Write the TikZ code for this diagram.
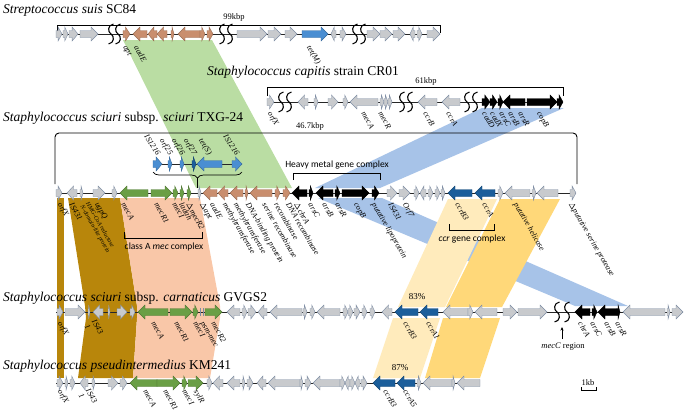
\documentclass[tikz,border=0pt]{standalone}
\usepackage{fontspec}
\setmainfont{Liberation Serif}
\newfontfamily\calfont{Carlito}
\usetikzlibrary{decorations.pathreplacing,arrows.meta}
\definecolor{gfill}{HTML}{C8CACD}
\definecolor{gline}{HTML}{7D8CA3}
\definecolor{ofill}{HTML}{C98E6E}
\definecolor{grn}{HTML}{6A9F45}
\definecolor{tblue}{HTML}{4A8ED2}
\definecolor{cblue}{HTML}{1B5E9B}
\definecolor{bgreen}{HTML}{BADDA3}
\definecolor{bblue}{HTML}{A7C3E8}
\definecolor{bly}{HTML}{FFEBBC}
\definecolor{bdy}{HTML}{FFD879}
\definecolor{bbrown}{HTML}{B8860B}
\definecolor{bpeach}{HTML}{F9C7A8}
\newcounter{nc}
\newcommand\gR[4]{%
\pgfmathsetmacro\ghl{min(7,0.65*(#2-#1))}%
\pgfmathsetmacro\ghx{#2-\ghl}%
\filldraw[#4] (#1,#3-3.5) -- (\ghx,#3-3.5) -- (\ghx,#3-7) -- (#2,#3) -- (\ghx,#3+7) -- (\ghx,#3+3.5) -- (#1,#3+3.5) -- cycle;}
\newcommand\gL[4]{%
\pgfmathsetmacro\ghl{min(7,0.65*(#2-#1))}%
\pgfmathsetmacro\ghx{#1+\ghl}%
\filldraw[#4] (#2,#3-3.5) -- (\ghx,#3-3.5) -- (\ghx,#3-7) -- (#1,#3) -- (\ghx,#3+7) -- (\ghx,#3+3.5) -- (#2,#3+3.5) -- cycle;}
\newcommand\gbrk[2]{%
\draw[brkl] (#1+2.5,#2-10) .. controls (#1-3.5,#2-9) and (#1-3.5,#2-2) .. (#1,#2) .. controls (#1+3.5,#2+2) and (#1+3.5,#2+9) .. (#1-2.5,#2+10);}
\newcommand\glb[3]{\stepcounter{nc}\node[glab,anchor=west,rotate=-60] (n\arabic{nc}) at (#1,#2+10) {#3};}
\newcommand\gla[3]{\stepcounter{nc}\node[glab,anchor=east,rotate=-57] (n\arabic{nc}) at (#1,#2-9) {#3};}
\tikzset{
 gg/.style={fill=gfill,draw=gline,line width=0.4pt},
 go/.style={fill=ofill,draw=ofill!75!black,line width=0.4pt},
 ggr/.style={fill=grn,draw=grn!75!black,line width=0.4pt},
 gb/.style={fill=tblue,draw=tblue!75!black,line width=0.4pt},
 gcb/.style={fill=cblue,draw=cblue!75!black,line width=0.4pt},
 gk/.style={fill=black,draw=black,line width=0.4pt},
 brkl/.style={line width=1.1pt,black},
 bbone/.style={line width=0.9pt,black!85},
 brack/.style={line width=0.9pt,black},
 glab/.style={font=\fontsize{8}{8.5}\selectfont\itshape,inner sep=0.5pt},
 ttl/.style={font=\fontsize{13.5}{15}\selectfont,anchor=base west,inner sep=0pt},
 small/.style={font=\fontsize{8.5}{9}\selectfont,inner sep=0.5pt},
 sans/.style={font=\calfont\fontsize{9.5}{10}\selectfont,inner sep=0.5pt}
}
\begin{document}
\begin{tikzpicture}[x=1pt,y=-1pt]
\useasboundingbox (0,0) rectangle (685,415);
% ---------- bands ----------
\fill[bgreen] (123,40) -- (212,40) -- (292,188) -- (196,188) -- cycle;
\fill[bblue] (482,108) -- (564,108) -- (380,188) -- (315,188) -- cycle;
\fill[bblue] (318,198) -- (382,198) -- (628,306) -- (575,306) -- cycle;
\fill[bbrown] (57,198) -- (64,198) -- (64,378) -- (57,378) -- cycle;
\fill[bbrown] (68,198) -- (120,198) -- (137,306) -- (137,318) -- (133,378) -- (78,378) -- (86,318) -- (85,306) -- cycle;
\fill[bpeach] (120,198) -- (200,198) -- (220,306) -- (220,318) -- (210,378) -- (133,378) -- (137,318) -- (137,306) -- cycle;
\fill[bly] (448,199) -- (497,199) -- (445,307) -- (398,307) -- cycle;
\fill[bdy] (500,199) -- (560,199) -- (502,307) -- (446,307) -- cycle;
\fill[bly] (393,318) -- (440,318) -- (420,378) -- (373,378) -- cycle;
\fill[bdy] (443,318) -- (500,318) -- (480,378) -- (425,378) -- cycle;
% ---------- titles ----------
\node[ttl] (t1) at (3,13) {\textit{Streptococcus suis} SC84};
\node[ttl] (t2) at (207,75) {\textit{Staphylococcus capitis} strain CR01};
\node[small] (k2) at (426,81) {61kbp};
\node[ttl] (t3) at (3,121) {\textit{Staphylococcus sciuri} subsp. \textit{sciuri} TXG-24};
\node[ttl] (t4) at (3,301) {\textit{Staphylococcus sciuri} subsp. \textit{carnaticus} GVGS2};
\node[ttl] (t5) at (3,369) {\textit{Staphylococcus pseudintermedius} KM241};
% ---------- brackets ----------
\draw[brack] (57,33) -- (57,25) -- (440,25) -- (440,33);
\node[small] (k1) at (234,17) {99kbp};
\draw[brack] (267,96) -- (267,87) -- (563,87) -- (563,96);
\draw[brack,rounded corners=4pt] (55,184) -- (55,133) -- (577,133) -- (577,184);
\node[small] (k3) at (310,126) {46.7kbp};
\draw[brack] (293,180) -- (293,173) -- (380,173) -- (380,180);
\node[sans] (hm) at (337,165) {Heavy metal gene complex};
\draw[brack] (124,232) -- (124,238) -- (202,238) -- (202,232);
\node[sans] (ca) at (164,247) {class A \textit{mec} complex};
\draw[brack] (449,224) -- (449,230) -- (494,230) -- (494,224);
\node[sans] (cc) at (472,239) {\textit{ccr} gene complex};
% ---------- backbones ----------
\draw[bbone] (56,34) -- (440,34);
\draw[bbone] (267,102) -- (563,102);
\draw[bbone] (56,193) -- (576,193);
\draw[bbone] (153,164) -- (242,164);
\draw[bbone] (56,312) -- (683,312);
\draw[bbone] (56,383) -- (480,383);
% inset brace
\draw[brack,line width=0.7pt,decorate,decoration={brace,amplitude=6pt,mirror}] (153,172) -- (242,172);
\coordinate (bt) at (197.5,178);
\coordinate (bm) at (197.5,188);
\draw[line width=0.7pt] (bt) -- (bm);
% ---------- row 1 ----------
\gR{56}{62}{34}{gg}\gR{63}{68}{34}{gg}\gR{69}{78}{34}{gg}\gR{80}{98}{34}{gg}
\gbrk{111}{34}\gbrk{118}{34}
\gR{123}{130}{34}{go}\gL{133}{147}{34}{go}\gL{148}{157}{34}{go}\gL{157}{167}{34}{go}
\gR{171}{174}{34}{go}\gL{178}{200}{34}{go}\gR{200}{205}{34}{go}\gR{207}{213}{34}{go}
\gbrk{222}{34}\gbrk{230}{34}
\gR{237}{267}{34}{gg}\gR{268}{281}{34}{gg}\gR{285}{297}{34}{gg}\gR{302}{328}{34}{gb}
\gL{331}{336}{34}{gg}\gR{340}{346}{34}{gg}
\gbrk{355}{34}\gbrk{363}{34}
\gR{367}{380}{34}{gg}\gR{380}{392}{34}{gg}\gR{393}{405}{34}{gg}\gL{410}{415}{34}{gg}
\gR{417}{422}{34}{gg}\gR{427}{440}{34}{gg}
\glb{124}{36}{apt}\glb{136}{36}{aadE}\glb{308}{36}{tet(M)}
% ---------- row 2 ----------
\gR{267}{274}{102}{gg}
\gbrk{281}{102}\gbrk{289}{102}
\gL{298}{308}{102}{gg}\gR{314}{318}{102}{gg}\gR{328}{338}{102}{gg}\gR{343}{348}{102}{gg}
\gL{350}{378}{102}{gg}\gR{380}{384}{102}{gg}\gR{384}{388}{102}{gg}\gR{388}{392}{102}{gg}
\gbrk{402}{102}\gbrk{410}{102}
\gL{418}{437}{102}{gg}\gL{442}{460}{102}{gg}
\gbrk{467}{102}\gbrk{475}{102}
\gR{482}{490}{102}{gk}\gR{490}{497}{102}{gk}\gR{498}{503}{102}{gk}\gL{503}{525}{102}{gk}
\gR{527}{557}{102}{gk}\gR{557}{563}{102}{gk}
\glb{269}{102}{orfX}\glb{363}{102}{mecA}\glb{380}{102}{mecR}\glb{425}{102}{ccrB}
\glb{448}{102}{ccrA}\glb{484}{102}{cadD}\glb{492}{102}{cadX}\glb{501}{102}{arsC}
\glb{510}{102}{arsB}\glb{520}{102}{arsR}\glb{538}{102}{copB}
% ---------- inset ----------
\gR{153}{162}{164}{gb}\gR{168}{172}{164}{gb}\gR{180}{184}{164}{gb}\gR{192}{196}{164}{gcb}
\gL{197}{222}{164}{gb}\gR{232}{242}{164}{gb}
\gla{159}{164}{IS1216}\gla{171}{164}{orf25}\gla{183}{164}{orf26}\gla{195}{164}{orf27}
\gla{210}{164}{tet(S)}\gla{238}{164}{IS1216}
% ---------- row 3 ----------
\gR{56}{62}{193}{gg}\gL{67}{77}{193}{gg}\gR{80}{83}{193}{gg}\gR{93}{105}{193}{gg}\gR{112}{117}{193}{gg}
\gL{120}{148}{193}{ggr}\gR{151}{172}{193}{ggr}\gR{173}{178}{193}{ggr}\gR{180}{184}{193}{ggr}\gR{187}{191}{193}{ggr}
\gR{198}{201}{193}{gg}
\gL{203}{217}{193}{go}\gL{218}{228}{193}{go}\gL{230}{243}{193}{go}\gR{245}{248}{193}{go}
\gL{250}{272}{193}{go}\gR{275}{280}{193}{go}\gR{283}{290}{193}{go}
\gL{292}{307}{193}{gk}\gR{309}{313}{193}{gk}\gL{316}{333}{193}{gk}\gR{335}{340}{193}{gk}
\gR{342}{369}{193}{gk}\gR{372}{379}{193}{gk}
\gR{387}{397}{193}{gg}\gR{399}{410}{193}{gg}\gR{414}{419}{193}{gg}\gL{420}{426}{193}{gg}
\gR{428}{433}{193}{gg}\gR{435}{440}{193}{gg}\gR{441}{445}{193}{gg}
\gL{448}{472}{193}{gcb}\gL{475}{495}{193}{gcb}
\gR{498}{503}{193}{gg}\gL{505}{530}{193}{gg}\gR{532}{536}{193}{gg}\gL{537}{558}{193}{gg}
\gR{570}{576}{193}{gg}
\glb{59}{193}{orfX}\glb{71}{193}{IS431}
\stepcounter{nc}\node[glab,font=\fontsize{6}{6.5}\selectfont\itshape,align=left,anchor=west,rotate=-60] (n\arabic{nc}) at (84,204) {HMG-CoA reductase\\N-domain-like protein};
\glb{96}{193}{ugpQ}\glb{123}{193}{mecA}\glb{156}{193}{mecR1}\glb{174}{193}{mecI}
\glb{181}{193}{ladah}\glb{188}{193}{$\Delta$mecR2}\glb{201}{193}{$\Delta$apt}\glb{212}{193}{aadE}
\glb{224}{193}{methyltransferase}\glb{235}{193}{methyltransferase}\glb{247}{193}{DNA-binding protein}
\glb{264}{193}{serine recombinase}\glb{276}{193}{recombinase}\glb{288}{193}{DNA recombinase}
\glb{296}{193}{$\Delta$chrA}\glb{310}{193}{arsC}\glb{324}{193}{arsB}\glb{337}{193}{arsR}
\glb{355}{193}{copB}\glb{373}{193}{putative lipoprotein}\glb{390}{193}{IS431}\glb{404}{193}{Orf7}
\glb{457}{193}{ccrB3}\glb{484}{193}{ccrA}\glb{515}{193}{putative helicase}
\glb{570}{193}{$\Delta$putative serine protease}
% ---------- row 4 ----------
\gR{57}{63}{312}{gg}\gR{65}{85}{312}{gg}\gR{88}{90}{312}{gg}\gL{93}{103}{312}{gg}\gR{108}{110}{312}{gg}
\gR{117}{127}{312}{gg}\gR{130}{135}{312}{gg}
\gL{138}{168}{312}{ggr}\gR{170}{192}{312}{ggr}\gR{193}{198}{312}{ggr}
\draw[gline,line width=0.6pt] (200,308) -- (200,316) (203,308) -- (203,316);
\gR{205}{222}{312}{ggr}
\gL{227}{240}{312}{gg}\gR{242}{247}{312}{gg}\gR{248}{256}{312}{gg}\gL{258}{267}{312}{gg}
\gL{270}{302}{312}{gg}\gR{303}{307}{312}{gg}\gR{310}{315}{312}{gg}\gL{317}{340}{312}{gg}
\gR{343}{348}{312}{gg}\gR{348}{353}{312}{gg}\gR{354}{360}{312}{gg}\gR{362}{367}{312}{gg}\gR{370}{375}{312}{gg}
\gL{382}{392}{312}{gg}
\gL{395}{418}{312}{gcb}\gL{420}{438}{312}{gcb}
\gL{443}{468}{312}{gg}\gR{468}{473}{312}{gg}\gL{475}{497}{312}{gg}
\gR{503}{517}{312}{gg}\gR{518}{547}{312}{gg}
\gbrk{557}{312}\gbrk{567}{312}
\gL{575}{590}{312}{gk}\gR{592}{597}{312}{gk}\gL{598}{617}{312}{gk}\gR{617}{620}{312}{gk}
\gL{623}{665}{312}{gg}\gR{667}{670}{312}{gg}\gR{672}{683}{312}{gg}
\glb{59}{312}{orfX}
\stepcounter{nc}\node[glab,align=left,anchor=west,rotate=-60] (n\arabic{nc}) at (90,322) {IS43\\1};
\glb{153}{312}{mecA}\glb{176}{312}{mecR1}\glb{195}{312}{mecI}\glb{201}{312}{psm-mec}\glb{213}{312}{mecR2}
\glb{405}{312}{ccrB3}\glb{428}{312}{ccrA1}
\glb{580}{312}{chrA}\glb{592}{312}{arsC}\glb{606}{312}{arsB}\glb{617}{312}{arsR}
\node[small,font=\fontsize{9}{10}\selectfont] (p83) at (417,297) {83\%};
\coordinate (mt) at (562,339);
\coordinate (mh) at (562,327);
\draw[-{Stealth[length=3.5pt,width=3pt]},line width=0.7pt] (mt) -- (mh);
\node[small] (mc) at (563,347) {\textit{mecC} region};
% ---------- row 5 ----------
\gR{57}{63}{383}{gg}\gR{65}{68}{383}{gg}\gR{70}{75}{383}{gg}\gL{80}{88}{383}{gg}\gR{92}{95}{383}{gg}
\gR{108}{118}{383}{gg}\gR{120}{127}{383}{gg}
\gL{130}{157}{383}{ggr}\gR{157}{180}{383}{ggr}\gR{182}{187}{383}{ggr}\gR{188}{203}{383}{ggr}
\gR{207}{212}{383}{gg}\gL{213}{223}{383}{gg}\gL{227}{240}{383}{gg}\gR{242}{245}{383}{gg}
\gR{247}{253}{383}{gg}\gL{257}{266}{383}{gg}\gL{268}{300}{383}{gg}\gR{300}{303}{383}{gg}
\gR{305}{311}{383}{gg}\gL{313}{340}{383}{gg}
\gR{340}{345}{383}{gg}\gL{345}{350}{383}{gg}\gR{350}{355}{383}{gg}\gL{355}{360}{383}{gg}\gR{361}{367}{383}{gg}
\gL{373}{395}{383}{gcb}\gL{397}{415}{383}{gcb}
\gR{417}{421}{383}{gg}\gL{423}{452}{383}{gg}\gR{452}{455}{383}{gg}\gL{457}{480}{383}{gg}
\glb{59}{380}{orfX}
\stepcounter{nc}\node[glab,align=left,anchor=west,rotate=-60] (n\arabic{nc}) at (84,391) {IS43\\1};
\glb{145}{380}{mecA}\glb{165}{380}{mecR1}\glb{184}{380}{mecI}\glb{195}{380}{sylR}
\glb{385}{380}{ccrB3}\glb{405}{380}{ccrA5}
\node[small,font=\fontsize{9}{10}\selectfont] (p87) at (400,368) {87\%};
% scale bar
\draw[line width=0.8pt] (581,387) -- (581,390) -- (596,390) -- (596,387);
\node[small] (sb) at (588,383) {1kb};
\end{tikzpicture}
\end{document}
